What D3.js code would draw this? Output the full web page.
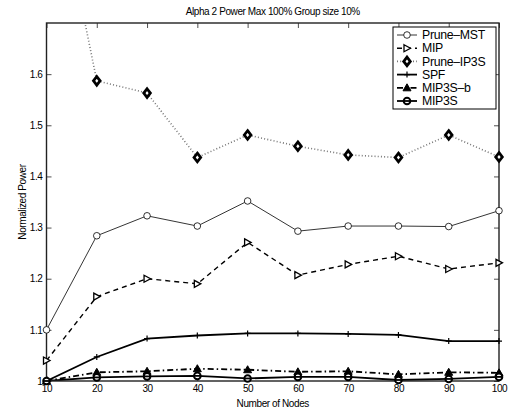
<!DOCTYPE html>
<html>
<head>
<meta charset="utf-8">
<script src="https://cdn.jsdelivr.net/npm/d3@7"></script>
<style>
  body { margin: 0; background: #fff; }
  text { font-family: "Liberation Sans", Arial, sans-serif; letter-spacing: -0.4px; }
</style>
</head>
<body>
<svg id="chart" width="512" height="414"></svg>
<script>
// data
const nodes = [10, 20, 30, 40, 50, 60, 70, 80, 90, 100];
const pruneMST  = [1.10, 1.284, 1.323, 1.303, 1.352, 1.293, 1.303, 1.303, 1.302, 1.333];
const mip       = [1.04, 1.165, 1.200, 1.190, 1.271, 1.207, 1.228, 1.244, 1.219, 1.231];
const pruneIP3S = [2.07, 1.587, 1.563, 1.437, 1.481, 1.459, 1.442, 1.437, 1.481, 1.438];
const spf       = [1.00, 1.047, 1.083, 1.089, 1.093, 1.093, 1.092, 1.090, 1.078, 1.078];
const mip3sB    = [1.00, 1.017, 1.019, 1.024, 1.022, 1.018, 1.019, 1.013, 1.017, 1.016];
const mip3s     = [1.00, 1.007, 1.009, 1.010, 1.005, 1.008, 1.008, 1.002, 1.004, 1.008];
const xTicks = [10, 20, 30, 40, 50, 60, 70, 80, 90, 100];
const yTicks = [1, 1.1, 1.2, 1.3, 1.4, 1.5, 1.6];

const series = [
  { name: "Prune\u2013MST", values: pruneMST, marker: "circle", line: "thin" },
  { name: "MIP", values: mip, marker: "triR", line: "dash" },
  { name: "Prune\u2013IP3S", values: pruneIP3S, marker: "diamond", line: "dot" },
  { name: "SPF", values: spf, marker: "plus", line: "thick" },
  { name: "MIP3S\u2013b", values: mip3sB, marker: "triU", line: "dashdot" },
  { name: "MIP3S", values: mip3s, marker: "circleB", line: "thick" }
];

const svg = d3.select("#chart");
const m = { left: 46.5, right: 499, top: 23, bottom: 381 };

const x = d3.scaleLinear().domain([10, 100]).range([m.left, m.right]);
const y = d3.scaleLinear().domain([1, 1.7]).range([m.bottom, m.top]);

const lineStyle = {
  thin:    { w: 0.8, dash: null, c: "#000" },
  dash:    { w: 1.4, dash: "5,4", c: "#000" },
  dot:     { w: 1.6, dash: "1,2.2", c: "#777" },
  thick:   { w: 1.8, dash: null, c: "#000" },
  dashdot: { w: 1.8, dash: "6,3,1.5,3", c: "#000" }
};

function drawMarker(g, type) {
  if (type == "circle") {
    g.append("circle").attr("r", 3.3).attr("fill", "#fff").attr("stroke", "#000").attr("stroke-width", 0.8);
  } else if (type == "circleB") {
    g.append("circle").attr("r", 3.3).attr("fill", "#fff").attr("stroke", "#000").attr("stroke-width", 2);
    g.append("line").attr("x1", -3).attr("x2", 3).attr("stroke", "#000").attr("stroke-width", 1.8);
  } else if (type == "triR") {
    g.append("path").attr("d", "M-3,-3.5L3.5,0L-3,3.5Z").attr("fill", "#fff").attr("stroke", "#000").attr("stroke-width", 1.3);
  } else if (type == "triU") {
    g.append("path").attr("d", "M0,-4L4,3L-4,3Z").attr("fill", "#000").attr("stroke", "#000").attr("stroke-width", 1);
  } else if (type == "diamond") {
    g.append("path").attr("d", "M0,-4.3L3.3,0L0,4.3L-3.3,0Z").attr("fill", "#fff").attr("stroke", "#000").attr("stroke-width", 2.8);
  } else if (type == "plus") {
    g.append("path").attr("d", "M-3,0H3M0,-3V3").attr("stroke", "#000").attr("stroke-width", 1.2);
  }
}

svg.append("defs").append("clipPath").attr("id", "clip")
  .append("rect").attr("x", m.left).attr("y", m.top)
  .attr("width", m.right - m.left).attr("height", m.bottom - m.top);

const plot = svg.append("g").attr("clip-path", "url(#clip)");

const line = d3.line()
  .x((d, i) => x(nodes[i]))
  .y(d => y(d));

series.forEach(s => {
  const st = lineStyle[s.line];
  plot.append("path")
    .attr("d", line(s.values))
    .attr("fill", "none")
    .attr("stroke", st.c)
    .attr("stroke-width", st.w)
    .attr("stroke-dasharray", st.dash);
});

// axes box with inside ticks on all four sides
const axisColor = "#222";
svg.append("g").attr("transform", `translate(0,${m.bottom})`)
  .call(d3.axisBottom(x).tickValues(xTicks).tickSizeInner(-5).tickSizeOuter(0).tickPadding(4))
  .call(g => g.select(".domain").remove());
svg.append("g").attr("transform", `translate(0,${m.top})`)
  .call(d3.axisTop(x).tickValues(xTicks).tickSizeInner(-5).tickSizeOuter(0).tickFormat(""))
  .call(g => g.select(".domain").remove());
svg.append("g").attr("transform", `translate(${m.left},0)`)
  .call(d3.axisLeft(y).tickValues(yTicks).tickSizeInner(-5).tickSizeOuter(0).tickPadding(4)
    .tickFormat(d => d == 1 ? "1" : d3.format(".1f")(d)))
  .call(g => g.select(".domain").remove());
svg.append("g").attr("transform", `translate(${m.right},0)`)
  .call(d3.axisRight(y).tickValues(yTicks).tickSizeInner(-5).tickSizeOuter(0).tickFormat(""))
  .call(g => g.select(".domain").remove());

svg.selectAll(".tick line").attr("stroke", axisColor).attr("stroke-width", 0.8);
svg.selectAll(".tick text").attr("font-size", 10).attr("fill", "#000")
  .style("font-family", "'Liberation Sans', Arial, sans-serif");

svg.append("rect")
  .attr("x", m.left).attr("y", m.top)
  .attr("width", m.right - m.left).attr("height", m.bottom - m.top)
  .attr("fill", "none").attr("stroke", axisColor).attr("stroke-width", 1.4);

// markers on top
series.forEach(s => {
  s.values.forEach((v, i) => {
    if (v > 1.7) return;
    const g = svg.append("g").attr("transform", `translate(${x(nodes[i])},${y(v)})`);
    drawMarker(g, s.marker);
  });
});

// title and axis labels
svg.append("text").attr("x", (m.left + m.right) / 2).attr("y", 15)
  .attr("text-anchor", "middle").attr("font-size", 10).text("Alpha 2 Power Max 100% Group size 10%");
svg.append("text").attr("x", (m.left + m.right) / 2).attr("y", 407)
  .attr("text-anchor", "middle").attr("font-size", 10).text("Number of Nodes");
svg.append("text").attr("transform", `translate(26,${(m.top + m.bottom) / 2}) rotate(-90)`)
  .attr("text-anchor", "middle").attr("font-size", 10).text("Normalized Power");

// legend
const lg = svg.append("g").attr("transform", "translate(393,27)");
lg.append("rect").attr("width", 103).attr("height", 82)
  .attr("fill", "#fff").attr("stroke", "#000").attr("stroke-width", 1);
series.forEach((s, i) => {
  const yy = 8 + i * 13.2;
  const st = lineStyle[s.line];
  lg.append("line").attr("x1", 4).attr("x2", 24).attr("y1", yy).attr("y2", yy)
    .attr("stroke", st.c).attr("stroke-width", st.w).attr("stroke-dasharray", st.dash);
  drawMarker(lg.append("g").attr("transform", `translate(14,${yy})`), s.marker);
  lg.append("text").attr("x", 29).attr("y", yy + 4.2).attr("font-size", 12.3)
    .style("letter-spacing", "-0.3px").text(s.name);
});
</script>
</body>
</html>
